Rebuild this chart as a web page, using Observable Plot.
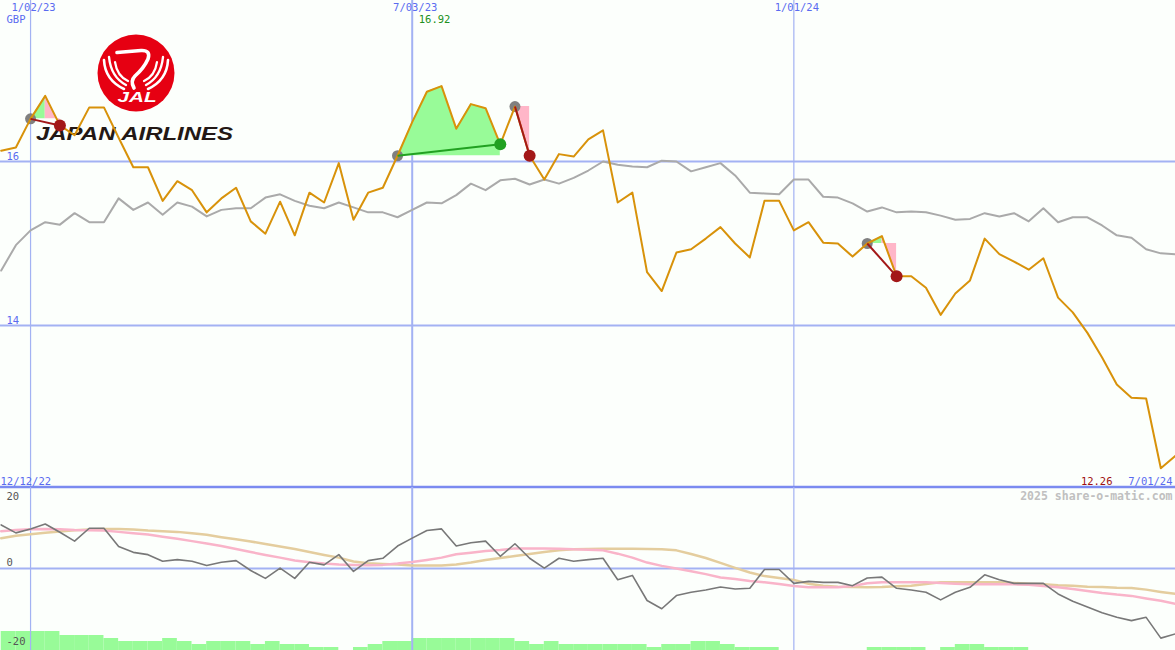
<!DOCTYPE html>
<html>
<head>
<meta charset="utf-8">
<script src="https://cdn.jsdelivr.net/npm/d3@7"></script>
<script src="https://cdn.jsdelivr.net/npm/@observablehq/plot@0.6"></script>
<style>
  html, body { margin: 0; padding: 0; background: #fcfffc; }
  #chart { position: relative; width: 1175px; height: 650px; overflow: hidden; background: #fcfffc; }
  #chart > svg, #chart > figure { position: absolute; left: 0; margin: 0; }
</style>
</head>
<body>
<div id="chart"></div>
<script>
// ---------- data ----------
const firstDate = new Date(Date.UTC(2022, 11, 19));
const lastDate = new Date(Date.UTC(2024, 6, 1));
const startLabel = "12/12/22";
const currency = "GBP";

const gridDates = [new Date(Date.UTC(2023, 0, 2)), new Date(Date.UTC(2023, 6, 3)), new Date(Date.UTC(2024, 0, 1))];
const gridDateLabels = ["1/02/23", "7/03/23", "1/01/24"];
const priceTicks = [16, 14];
const oscTicksUpper = [20, 0];
const oscTicksLower = [-20];

// weekly close price (GBP)
const price = [
  16.13, 16.17, 16.52, 16.80, 16.44, 16.32, 16.66, 16.66, 16.29, 15.93,
  15.93, 15.52, 15.76, 15.65, 15.38, 15.55, 15.68, 15.27, 15.12, 15.51,
  15.10, 15.62, 15.50, 15.98, 15.29, 15.62, 15.68, 16.07, 16.48, 16.85,
  16.92, 16.40, 16.70, 16.65, 16.21, 16.67, 16.07, 15.78, 16.09, 16.06,
  16.27, 16.38, 15.50, 15.62, 14.65, 14.42, 14.89, 14.93, 15.06, 15.20,
  15.00, 14.83, 15.52, 15.52, 15.16, 15.26, 15.01, 15.00, 14.84, 15.00,
  15.09, 14.60, 14.60, 14.46, 14.13, 14.39, 14.55, 15.06, 14.87, 14.78,
  14.68, 14.82, 14.34, 14.16, 13.91, 13.61, 13.28, 13.12, 13.11, 12.26,
  12.41
];

// comparison line (grey)
const compare = [
  14.67, 14.98, 15.16, 15.26, 15.23, 15.37, 15.26, 15.26, 15.55, 15.41,
  15.50, 15.35, 15.50, 15.45, 15.33, 15.41, 15.43, 15.43, 15.56, 15.60,
  15.52, 15.46, 15.43, 15.50, 15.44, 15.38, 15.38, 15.32, 15.41, 15.50,
  15.49, 15.59, 15.73, 15.65, 15.77, 15.79, 15.72, 15.78, 15.73, 15.80,
  15.89, 16.00, 15.96, 15.94, 15.93, 16.01, 16.00, 15.88, 15.93, 15.98,
  15.83, 15.62, 15.61, 15.60, 15.78, 15.78, 15.57, 15.56, 15.49, 15.39,
  15.44, 15.38, 15.39, 15.38, 15.34, 15.29, 15.30, 15.37, 15.33, 15.37,
  15.27, 15.43, 15.26, 15.32, 15.32, 15.22, 15.10, 15.07, 14.93, 14.88,
  14.87
];

// lower panel oscillator (dark grey), signal (pink), slow (tan)
const momentum = [
  13.2, 10.8, 12.0, 13.5, 11.0, 8.3, 12.2, 12.2, 6.7, 4.9,
  4.2, 2.2, 2.7, 2.2, 0.9, 1.9, 2.4, -0.6, -3.0, 0.1,
  -3.0, 1.9, 1.1, 4.2, -0.9, 2.4, 3.1, 6.8, 9.2, 11.5,
  12.0, 6.8, 7.8, 8.3, 3.7, 7.5, 3.1, 0.1, 3.1, 2.2,
  2.7, 3.1, -3.4, -2.1, -9.7, -12.2, -8.2, -7.2, -6.5, -5.6,
  -6.2, -6.0, -0.3, -0.3, -4.5, -3.9, -4.2, -4.2, -5.2, -2.9,
  -2.6, -6.0, -6.5, -7.2, -9.5, -7.2, -5.7, -1.9, -3.4, -4.5,
  -4.5, -4.5, -7.7, -9.9, -11.7, -13.4, -14.8, -15.8, -14.8, -21.1,
  -19.8
];
const signal = [
  11.3, 11.7, 11.9, 12.0, 11.9, 11.7, 11.6, 11.5, 11.1, 10.7,
  10.3, 9.6, 9.0, 8.3, 7.6, 6.8, 5.9, 5.0, 4.1, 3.3,
  2.4, 1.9, 1.5, 1.2, 1.1, 1.0, 1.1, 1.5, 2.0, 2.6,
  3.3, 4.3, 4.8, 5.3, 5.6, 6.1, 6.1, 6.1, 6.0, 5.8,
  5.7, 5.5, 4.5, 3.3, 1.8, 0.8, 0.0, -0.8, -1.7, -2.7,
  -3.2, -3.8, -4.2, -4.7, -5.3, -5.7, -5.7, -5.7, -5.3, -4.5,
  -4.2, -4.2, -4.2, -4.2, -4.4, -4.6, -4.8, -4.8, -4.8, -4.8,
  -4.9, -5.3, -5.7, -6.2, -6.8, -7.4, -7.9, -8.3, -9.1, -9.8,
  -10.7
];
const slow = [
  9.2, 9.9, 10.4, 10.8, 11.2, 11.6, 11.8, 12.0, 12.0, 11.8,
  11.5, 11.3, 11.1, 10.7, 10.2, 9.5, 8.9, 8.2, 7.4, 6.7,
  5.9, 5.0, 4.1, 3.3, 2.1, 1.6, 1.4, 1.2, 0.9, 0.9,
  0.9, 1.2, 1.8, 2.6, 3.2, 3.8, 4.4, 5.0, 5.5, 5.8,
  5.9, 6.0, 6.0, 6.0, 5.9, 5.8, 5.5, 4.4, 3.2, 1.7,
  0.2, -1.2, -2.3, -2.9, -3.5, -4.6, -5.2, -5.5, -5.6, -5.7,
  -5.6, -5.4, -5.2, -4.7, -4.2, -4.2, -4.2, -4.2, -4.2, -4.4,
  -4.6, -4.8, -5.1, -5.2, -5.5, -5.6, -5.8, -5.9, -6.4, -7.1,
  -7.7
];
// relative weekly volume
const volume = [
  19, 19, 19, 19, 15, 15, 15, 12, 9, 9,
  9, 12, 9, 6, 9, 9, 9, 6, 9, 6,
  6, 3, 3, 0, 3, 6, 9, 9, 12, 12,
  12, 12, 12, 12, 12, 9, 6, 9, 6, 6,
  6, 6, 6, 6, 3, 6, 6, 9, 9, 6,
  3, 3, 3, 0, 0, 0, 0, 0, 0, 3,
  3, 3, 3, 0, 3, 6, 6, 3, 3, 3,
  0, 0, 0, 0, 0, 0, 0, 0, 0, 0,
  0
];

// trade signals (week indices)
const tradeEntry = [2, 27, 35, 59];
const tradePeak  = [3, 34, 35, 60];
const tradeExit  = [4, 34, 36, 61];
const tradeWin   = [false, true, false, false];

// ---------- layout ----------
const W = 1175, H_TOP = 487, H_LOW = 163;
const blue = "#5a6bf0", gridBlue = "#a3b2f3", sepBlue = "#7b8bf0";
const mono = "DejaVu Sans Mono, monospace";
const dates = d3.utcMonday.range(firstDate, d3.utcDay.offset(lastDate, 1));
const xDomain = [new Date(Date.UTC(2022, 11, 18, 16)), lastDate];
const rows = dates.map((d, i) => ({date: d, price: price[i], compare: compare[i], mom: momentum[i], sig: signal[i], slow: slow[i], vol: volume[i]}));
const fmt = d3.utcFormat("%-m/%d/%y");

const chart = document.getElementById("chart");

// ---------- logo (under the plot) ----------
const logo = `
<svg width="1175" height="487" style="top:0" xmlns="http://www.w3.org/2000/svg">
  <circle cx="136" cy="73" r="38.5" fill="#e60012"/>
  <g fill="none" stroke="#fff" stroke-linecap="round">
    <path d="M104,60 Q105,80 124,89" stroke-width="2.6"/>
    <path d="M109,57 Q111,77 126,85" stroke-width="2.4"/>
    <path d="M115,62 Q117,76 128,81" stroke-width="2.2"/>
    <path d="M168,60 Q167,80 148,89" stroke-width="2.6"/>
    <path d="M163,57 Q161,77 146,85" stroke-width="2.4"/>
    <path d="M157,62 Q155,76 144,81" stroke-width="2.2"/>
    <path d="M117,52.5 L141,50.5 Q151,50 148,59 Q144,68 135,76 Q130,81 134,88" stroke-width="3.6"/>
  </g>
  <text x="137" y="102" text-anchor="middle" font-family="Liberation Sans, Arial, sans-serif" font-weight="bold" font-style="italic" font-size="15" textLength="39" lengthAdjust="spacingAndGlyphs" fill="#fff">JAL</text>
  <text x="36" y="140" font-family="Liberation Sans, Arial, sans-serif" font-weight="bold" font-style="italic" font-size="17.5" textLength="197" lengthAdjust="spacingAndGlyphs" fill="#231815">JAPAN AIRLINES</text>
</svg>`;
chart.insertAdjacentHTML("beforeend", logo);

// ---------- trade marks ----------
const tradeMarks = [];
tradeEntry.forEach((e, k) => {
  const level = price[e];
  const greenIdx = d3.range(e, tradePeak[k] + 1);
  const pinkIdx = tradeWin[k] ? [] : d3.range(tradePeak[k], tradeExit[k] + 1);
  if (greenIdx.length > 1) tradeMarks.push(Plot.areaY(greenIdx, {x: i => dates[i], y1: () => level, y2: i => price[i], fill: "#98fb98", curve: "linear"}));
  if (pinkIdx.length > 1) tradeMarks.push(Plot.areaY(pinkIdx, {x: i => dates[i], y1: () => level, y2: i => price[i], fill: "#ffb6c8", curve: "linear"}));
});
const trades = tradeEntry.map((e, k) => ({e, x: tradeExit[k], win: tradeWin[k]}));

// ---------- top panel ----------
const topPlot = Plot.plot({
  width: W, height: H_TOP, margin: 0,
  style: {background: "transparent", overflow: "visible"},
  x: {type: "utc", domain: xDomain, axis: null},
  y: {domain: [12.0244, 17.9634], axis: null},
  marks: [
    Plot.ruleY(priceTicks, {stroke: gridBlue, strokeWidth: 2}),
    Plot.ruleX([gridDates[0], gridDates[2]], {stroke: gridBlue, strokeWidth: 1.2}),
    Plot.ruleX([gridDates[1]], {stroke: gridBlue, strokeWidth: 2}),
    Plot.ruleY([12.0244], {stroke: sepBlue, strokeWidth: 2.5, dy: -0.5}),
    ...tradeMarks,
    Plot.line(rows, {x: "date", y: "compare", stroke: "#aaaaaa", strokeWidth: 2}),
    Plot.dot(tradeEntry, {x: i => dates[i], y: i => price[i], r: 5.5, fill: "#808080"}),
    Plot.line(rows, {x: "date", y: "price", stroke: "#d8920a", strokeWidth: 2}),
    Plot.link(trades, {x1: d => dates[d.e], y1: d => price[d.e], x2: d => dates[d.x], y2: d => price[d.x], stroke: d => d.win ? "#21a121" : "#a31818", strokeWidth: 2}),
    Plot.dot(trades, {x: d => dates[d.x], y: d => price[d.x], r: 6, fill: d => d.win ? "#21a121" : "#a31818"}),
    Plot.text(gridDates, {x: d => d, text: gridDateLabels, frameAnchor: "top", dy: 3, dx: 3, fill: blue, fontFamily: mono, fontSize: 10.5}),
    Plot.text([currency], {frameAnchor: "top-left", dx: 6, dy: 15, fill: blue, fontFamily: mono, fontSize: 10.5}),
    Plot.text([d3.maxIndex(price)], {x: i => dates[i], text: i => price[i].toFixed(2), frameAnchor: "top", dx: -7, dy: 15, fill: "#209020", fontFamily: mono, fontSize: 10.5}),
    Plot.text(priceTicks, {y: d => d, text: d => String(d), frameAnchor: "left", textAnchor: "start", dx: 6, dy: -5, fill: blue, fontFamily: mono, fontSize: 10.5}),
    Plot.text([startLabel], {frameAnchor: "bottom-left", dx: 0, dy: -3, fill: blue, fontFamily: mono, fontSize: 10.5}),
    Plot.text([fmt(lastDate)], {frameAnchor: "bottom-right", dx: -3, dy: -3, fill: blue, fontFamily: mono, fontSize: 10.5}),
    Plot.text([d3.min(price).toFixed(2)], {frameAnchor: "bottom-right", dx: -63, dy: -3, fill: "#a01010", fontFamily: mono, fontSize: 10.5})
  ]
});
topPlot.style.top = "0px";
chart.appendChild(topPlot);

// ---------- volume bars (own scale, bottom of lower panel, drawn underneath) ----------
const volRows = rows.slice(0, -1).map((r, i) => ({x1: r.date, x2: dates[i + 1], vol: r.vol})).filter(d => d.vol > 0);
const volPlot = Plot.plot({
  width: W, height: H_LOW, margin: 0,
  style: {background: "transparent"},
  x: {type: "utc", domain: xDomain, axis: null},
  y: {domain: [0, H_LOW], axis: null},
  marks: [
    Plot.rectY(volRows, {x1: "x1", x2: "x2", y: "vol", fill: "#98fb98", inset: 0})
  ]
});
volPlot.style.top = H_TOP + "px";
chart.appendChild(volPlot);

// ---------- lower panel ----------
const lowPlot = Plot.plot({
  width: W, height: H_LOW, margin: 0,
  style: {background: "transparent", overflow: "visible"},
  x: {type: "utc", domain: xDomain, axis: null},
  y: {domain: [-24.85, 24.55], axis: null},
  marks: [
    Plot.ruleY([0], {stroke: gridBlue, strokeWidth: 2}),
    Plot.ruleX([gridDates[0], gridDates[2]], {stroke: gridBlue, strokeWidth: 1.2}),
    Plot.ruleX([gridDates[1]], {stroke: gridBlue, strokeWidth: 2}),
    Plot.line(rows, {x: "date", y: "slow", stroke: "#e4cd9e", strokeWidth: 2.5}),
    Plot.line(rows, {x: "date", y: "sig", stroke: "#f9b4c9", strokeWidth: 2.5}),
    Plot.line(rows, {x: "date", y: "mom", stroke: "#787878", strokeWidth: 1.6}),
    Plot.text(oscTicksUpper, {y: d => d, text: d => String(d), frameAnchor: "left", textAnchor: "start", dx: 6, dy: -6, fill: "#555", fontFamily: mono, fontSize: 10.5}),
    Plot.text(oscTicksLower, {y: d => d, text: d => String(d), frameAnchor: "left", textAnchor: "start", dx: 6, dy: 7, fill: "#555", fontFamily: mono, fontSize: 10.5}),
    Plot.text(["2025 share-o-matic.com"], {frameAnchor: "top-right", dx: -3, dy: 4, fill: "#c0c0c0", fontFamily: mono, fontSize: 11.5, fontWeight: "bold"})
  ]
});
lowPlot.style.top = H_TOP + "px";
chart.appendChild(lowPlot);
</script>
</body>
</html>
